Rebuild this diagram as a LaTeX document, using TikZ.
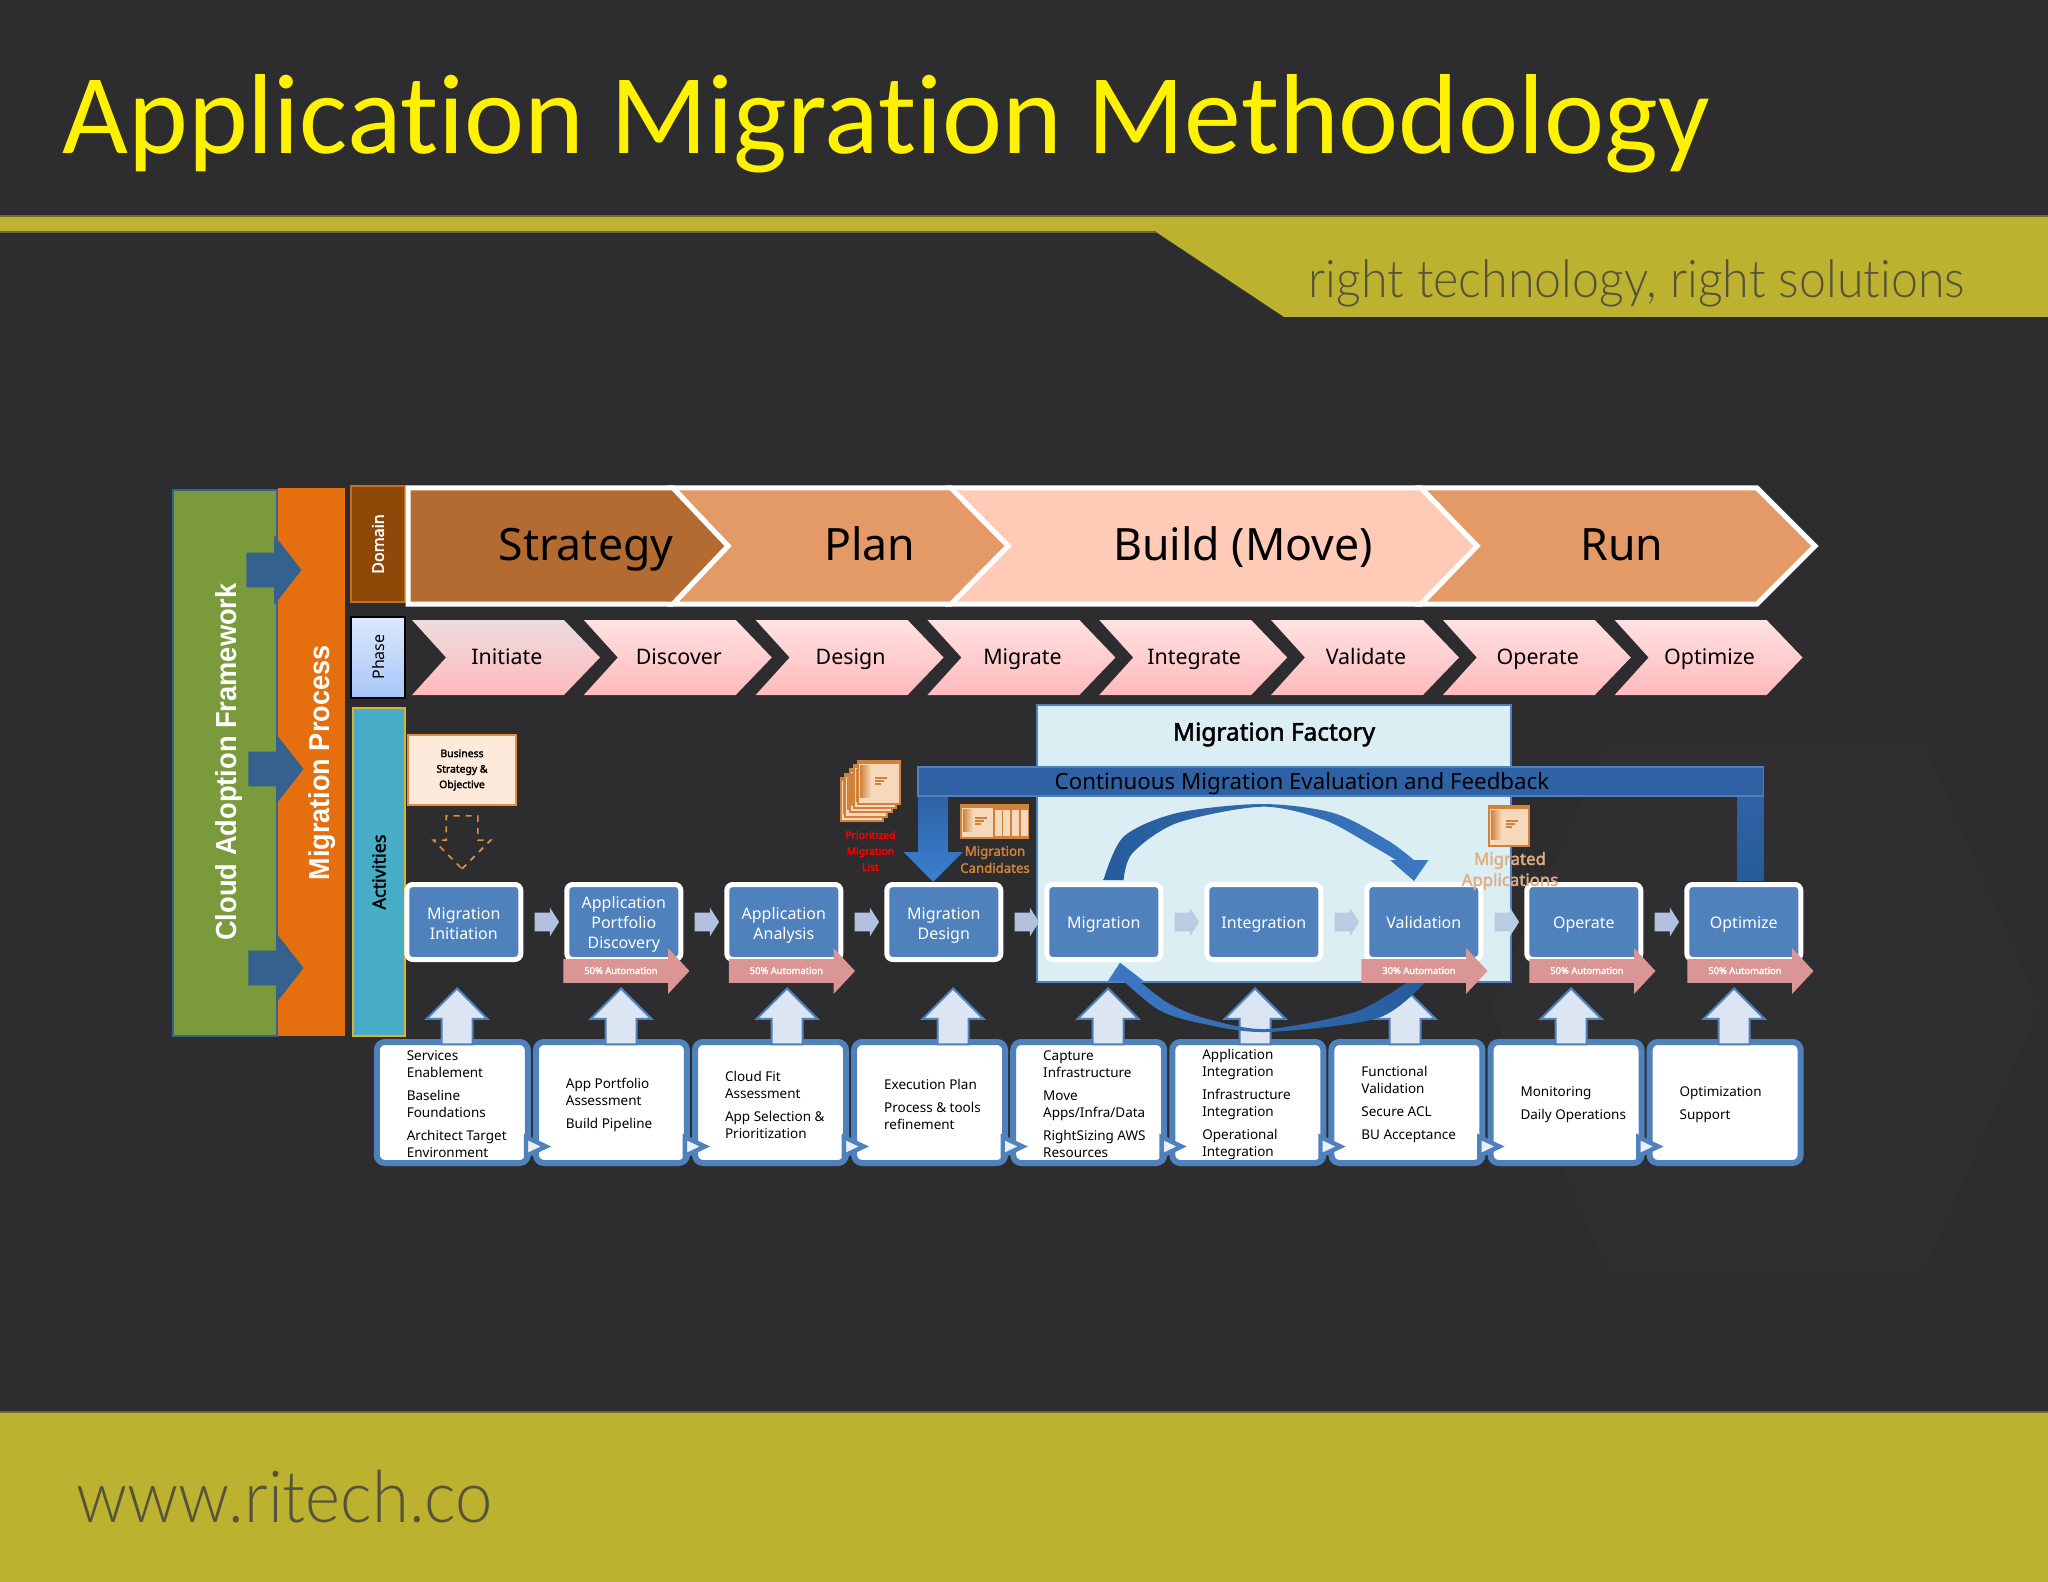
\documentclass[tikz,border=0pt]{standalone}
\usepackage{fontspec}
\setmainfont[AutoFakeBold=2]{Noto Sans}
\newfontfamily\titlefont[Ligatures=CommonOff]{Carlito}
\newfontfamily\panelfont[FakeStretch=.94]{Liberation Sans}
\newfontfamily\thinfont[FakeStretch=.93,Ligatures=CommonOff]{Lato Light}
\usetikzlibrary{positioning,calc,shapes.arrows}

\definecolor{slate}{HTML}{2D2D2F}
\definecolor{slatelift}{HTML}{2F2F31}
\definecolor{olive}{HTML}{BDB22F}
\definecolor{olivedark}{HTML}{6F6A35}
\definecolor{olivetext}{HTML}{55543A}
\definecolor{boxblue}{HTML}{4F81BD}
\definecolor{pale}{HTML}{DCE6F2}
\definecolor{pink}{HTML}{DA9694}
\definecolor{peach}{HTML}{E39A66}
\definecolor{navy}{HTML}{35618F}
\definecolor{iconedge}{HTML}{D0813A}
\definecolor{iconbody}{HTML}{F6D9BC}
\definecolor{cafgreen}{HTML}{7A9A3B}
\definecolor{procorange}{HTML}{E56E0E}
\definecolor{domfill}{HTML}{8E4908}
\definecolor{domedge}{HTML}{C86E1E}
\definecolor{phasetop}{HTML}{DCE8FC}
\definecolor{phasebot}{HTML}{A8C6FA}
\definecolor{actfill}{HTML}{47ACC6}
\definecolor{actedge}{HTML}{D9B230}
\definecolor{stratfill}{HTML}{B46B32}
\definecolor{buildfill}{HTML}{FFCBB6}
\definecolor{chevfirst}{HTML}{ECDCDE}
\definecolor{chevtop}{HTML}{FFE2E2}
\definecolor{chevbot}{HTML}{FFB9BC}
\definecolor{factfill}{HTML}{DAEEF3}
\definecolor{stepdark}{HTML}{B3C1DE}
\definecolor{steplight}{HTML}{B8CCE4}
\definecolor{loopdark}{HTML}{265C9B}
\definecolor{looplight}{HTML}{3C78C3}
\definecolor{barblue}{HTML}{2F62A5}
\definecolor{headblue}{HTML}{3A80D2}
\definecolor{noteedge}{HTML}{E08F3F}
\definecolor{notefill}{HTML}{FDEADA}
\definecolor{candtext}{HTML}{D0823C}
\definecolor{apptext}{HTML}{E0AD85}

\newcommand{\slideicon}[4]{%
  \fill[iconedge] (#1,#2) rectangle ++(#3,#4);
  \fill[iconbody] (#1+2,#2+4) rectangle ++(#3-4,#4-6);
  \shade[left color=iconedge, right color=iconbody] (#1+3,#2+5) rectangle ++(.25*#3,#4-13);
}
\newcommand{\topgap}[1]{\rule{0pt}{#1}}

\begin{document}
\begin{tikzpicture}[x=.5pt, y=-.5pt,
  chev/.style = {draw=white, line width=2.5pt, line join=miter},
  dom/.style = {font=\fontsize{22.3}{24}\selectfont, text=black, execute at begin node=\strut},
  phase/.style = {font=\fontsize{10.7}{12}\selectfont, text=black, execute at begin node=\strut},
  side/.style = {rotate=90, font=\bfseries\fontsize{8}{10}\selectfont},
  pbox/.style = {draw=white, line width=2.5pt, fill=boxblue, rounded corners=3pt, text=white,
    minimum width=57pt, minimum height=37.5pt, inner sep=0pt, align=center,
    font=\fontsize{8}{10}\selectfont, execute at end node=\strut},
  bbox/.style = {draw=boxblue, line width=3pt, fill=white, rounded corners=4pt,
    minimum width=75.5pt, minimum height=60.5pt, inner sep=0pt},
  btext/.style = {align=left, inner sep=0pt, outer sep=0pt, text=black,
    font=\fontsize{6.75}{8.5}\selectfont},
  upar/.style = {single arrow, draw=boxblue, line width=1pt, fill=pale, shape border rotate=90,
    minimum height=28pt, minimum width=29.5pt, single arrow head extend=7.5pt,
    single arrow tip angle=90, inner xsep=7.25pt, inner ysep=0pt},
  smallar/.style = {single arrow, fill=#1, minimum height=12.25pt, minimum width=14pt,
    single arrow head extend=2.5pt, single arrow tip angle=115, inner xsep=0pt, inner ysep=4.5pt},
  autoar/.style = {single arrow, fill=pink, minimum height=63pt, minimum width=22.5pt,
    single arrow head extend=5.5pt, single arrow tip angle=94, inner xsep=0pt, inner ysep=3.25pt,
    text height=4pt, text depth=1pt, text=white, font=\bfseries\fontsize{4.7}{6}\selectfont},
  sidear/.style = {single arrow, fill=navy, minimum height=27.5pt, minimum width=34.5pt,
    single arrow head extend=8.75pt, single arrow tip angle=104, inner xsep=0pt, inner ysep=8.5pt},
  tick/.style = {iconedge, line width=.6pt},
  ]
  \useasboundingbox (0,0) rectangle (2048,1582);
  \fill[slate] (0,0) rectangle (2048,1582);
  % faint watermark behind the slide
  \fill[slatelift] (1607,743) -- (1924,743) -- (2040,1007) -- (1924,1271) -- (1607,1271) -- (1490,1007) -- cycle;

  % header and footer
  \fill[olive] (0,217) -- (2048,217) -- (2048,317) -- (1284,317) -- (1156,232) -- (0,232) -- cycle;
  \draw[olivedark, line width=1pt] (0,216) -- (2048,216);
  \draw[olivedark, line width=.6pt] (0,232) -- (1156,232);
  \node[anchor=base west, inner sep=0pt, text=yellow, font=\titlefont\fontsize{56.9}{60}\selectfont]
    (title) at (62,154) {Application Migration Methodology};
  \node[anchor=base west, inner sep=0pt, text=olivetext, font=\thinfont\fontsize{26}{30}\selectfont]
    (motto) at (1308,298) {right technology, right solutions};
  \fill[olive] (0,1412) rectangle (2048,1582);
  \draw[olivedark, line width=.8pt] (0,1412) -- (2048,1412);
  \node[anchor=base west, inner sep=0pt, text=olivetext, font=\thinfont\fontsize{36}{40}\selectfont]
    (site) at (76,1522.5) {www.ritech.co};

  % left panels
  \filldraw[fill=cafgreen, draw=navy, line width=1pt] (173,490) rectangle (277,1036);
  \fill[procorange] (278,488) rectangle (345,1036);
  \node[rotate=90, text=white, font=\panelfont\bfseries\fontsize{14.5}{16}\selectfont] (caf) at (229,762) {Cloud Adoption Framework};
  \node[rotate=90, text=white, font=\panelfont\bfseries\fontsize{14.4}{16}\selectfont] (mproc) at (322,763) {Migration Process};
  \node[sidear, anchor=tip] (a1) at (302,570) {};
  \node[sidear, anchor=tip] (a2) at (304,769) {};
  \node[sidear, anchor=tip] (a3) at (304,968) {};

  % row titles
  \node[side, draw=domedge, line width=.6pt, fill=domfill, text=white,
    minimum width=58pt, minimum height=27pt, inner sep=0pt] (domain) at (378,544) {Domain};
  \node[side, font=\fontsize{8}{10}\selectfont, draw=black, line width=1pt, top color=phasetop, bottom color=phasebot, text=black,
    minimum width=40.5pt, minimum height=27pt, inner sep=0pt] (phase) at (378,657) {Phase};
  \node[side, font=\bfseries\fontsize{9}{10}\selectfont, draw=actedge, line width=.8pt, fill=actfill, text=black,
    minimum width=164pt, minimum height=26pt, inner sep=0pt] (act) at (379,872) {Activities};

  % domain chevrons
  \filldraw[chev, fill=peach] (1421,488) -- (1757,488) -- (1815,546) -- (1757,604) -- (1421,604) -- (1477,546) -- cycle;
  \filldraw[chev, fill=buildfill] (951,488) -- (1421,488) -- (1477,546) -- (1421,604) -- (951,604) -- (1008,546) -- cycle;
  \filldraw[chev, fill=peach] (673,488) -- (951,488) -- (1008,546) -- (951,604) -- (673,604) -- (728,546) -- cycle;
  \filldraw[chev, fill=stratfill] (408,488) -- (673,488) -- (728,546) -- (673,604) -- (408,604) -- cycle;
  \node[dom] (strategy) at (586,551) {Strategy};
  \node[dom] (plan) at (870,551) {Plan};
  \node[dom] (build) at (1243,551) {Build (Move)};
  \node[dom] (run) at (1622,551) {Run};

  % phase chevrons
  \foreach \i/\col/\lab in {0/chevfirst/Initiate, 1/chevtop/Discover, 2/chevtop/Design, 3/chevtop/Migrate,
      4/chevtop/Integrate, 5/chevtop/Validate, 6/chevtop/Operate, 7/chevtop/Optimize} {
    \pgfmathsetmacro\xo{412+171.8*\i}
    \fill[top color=\col, bottom color=chevbot]
      (\xo,620) -- ++(152,0) -- ++(36,37.5) -- ++(-36,37.5) -- ++(-152,0) -- ++(34,-37.5) -- cycle;
    \node[phase] (ph\i) at (\xo+95,660) {\lab};
  }

  % factory
  \filldraw[fill=factfill, draw=boxblue, line width=1pt] (1036.5,705) rectangle (1510.5,982);
  \node[font=\bfseries\fontsize{12.2}{14}\selectfont, text=black] (factory) at (1274,734.5) {Migration Factory};

  % bottom boxes
  \foreach \i/\lab in {1/{Services\\Enablement\\[3pt]Baseline\\Foundations\\[3pt]Architect Target\\Environment},
      2/{App Portfolio\\Assessment\\[3pt]Build Pipeline},
      3/{Cloud Fit\\Assessment\\[3pt]App Selection \&\\Prioritization},
      4/{Execution Plan\\[3pt]Process \& tools\\refinement},
      5/{Capture\\Infrastructure\\[3pt]Move\\Apps/Infra/Data\\[3pt]RightSizing AWS\\Resources},
      6/{Application\\Integration\\[3pt]Infrastructure\\Integration\\[3pt]Operational\\Integration},
      7/{Functional\\Validation\\[3pt]Secure ACL\\[3pt]BU Acceptance},
      8/{Monitoring\\[3pt]Daily Operations},
      9/{Optimization\\[3pt]Support}} {
    \pgfmathsetmacro\xb{452.3+159.1*(\i-1)}
    \node[bbox] (b\i) at (\xb,1102.5) {};
    \node[btext, right=16.5pt of b\i.west, yshift=-1pt] (t\i) {\lab};
  }
  \foreach \i in {0,...,7} {
    \pgfmathsetmacro\xt{526+158.9*\i}
    \filldraw[draw=boxblue, fill=pale!60!white, line width=2.2pt, line join=miter] (\xt,1137) -- (\xt+20,1146.5) -- (\xt,1156) -- cycle;
  }

  % arrows up
  \foreach \i/\xu in {1/457,2/621,3/787,4/953,5/1108,6/1255,7/1405,8/1571,9/1734} {
    \node[upar, anchor=tip] (u\i) at (\xu,987) {};
  }

  % lower loop
  \shade[left color=looplight, right color=loopdark]
    plot[smooth] coordinates {(1426,981) (1378,1018) (1266,1032) (1199.5,1023) (1159,1010) (1123.6,981)}
    -- (1108,981) -- (1120,962.7) -- (1143.6,981) -- (1139,981)
    -- plot[smooth] coordinates {(1139,981) (1168,1003) (1204,1018) (1266,1029) (1355.7,1011.7) (1409,981)} -- cycle;

  % process boxes
  \foreach \i/\lab in {1/{\topgap{10pt}Migration\\Initiation}, 2/{\topgap{9.6pt}Application\\Portfolio\\Discovery},
      3/{\topgap{10pt}Application\\Analysis}, 4/{\topgap{10pt}Migration\\Design}, 5/{\topgap{9pt}Migration},
      6/{\topgap{9pt}Integration}, 7/{\topgap{9pt}Validation}, 8/{\topgap{9pt}Operate}, 9/{\topgap{9pt}Optimize}} {
    \pgfmathsetmacro\xp{463.8+160*(\i-1)}
    \node[pbox] (p\i) at (\xp,922) {\lab};
  }
  \foreach \a/\b/\col in {1/2/stepdark, 2/3/stepdark, 3/4/stepdark, 4/5/stepdark,
      5/6/steplight, 6/7/steplight, 7/8/steplight, 8/9/stepdark} {
    \node[smallar=\col] (s\a) at ($(p\a)!.5!(p\b)$) {};
  }

  % automation
  \node[autoar, anchor=tip] (auto2) at (690,971) {50\% Automation};
  \node[autoar, anchor=tip] (auto3) at (855.5,971) {50\% Automation};
  \node[autoar, anchor=tip] (auto7) at (1488,971) {30\% Automation};
  \node[autoar, anchor=tip] (auto8) at (1656,971) {50\% Automation};
  \node[autoar, anchor=tip] (auto9) at (1814,971) {50\% Automation};

  % upper loop
  \shade[left color=loopdark, right color=looplight]
    plot[smooth] coordinates {(1103.5,880) (1123.6,836.7) (1177,813) (1262,804) (1333.4,813) (1387,840) (1413.8,860)}
    -- (1428.5,860) -- (1414,881) -- (1390,860) -- (1396,860)
    -- plot[smooth] coordinates {(1396,860) (1373.6,846.7) (1324.5,820) (1262,806.7) (1177,823) (1132.5,853) (1123.6,880)} -- cycle;

  % feedback bar
  \fill[top color=barblue, bottom color=headblue]
    (918,796) -- (918,852) -- (903.5,852) -- (933,882) -- (963,852) -- (948,852) -- (948,796) -- cycle;
  \fill[top color=barblue, bottom color=loopdark] (1737,796) rectangle (1763.6,880);
  \filldraw[fill=barblue, draw=boxblue, line width=.6pt] (918,767) rectangle (1763.6,796);
  \node[font=\fontsize{11.15}{13}\selectfont, text=black] (feedback) at (1302,784) {Continuous Migration Evaluation and Feedback};

  % strategy note
  \node[draw=noteedge, line width=1pt, fill=notefill, text=black, minimum width=54pt, minimum height=35pt,
    inner sep=0pt, align=center, font=\bfseries\fontsize{5.2}{7.75}\selectfont]
    (goal) at (462,770) {Business\\Strategy \&\\Objective};
  \node[single arrow, draw=noteedge, dashed, line width=.8pt, shape border rotate=270, inner xsep=7.5pt, inner ysep=0pt,
    minimum height=26.5pt, minimum width=28pt, single arrow head extend=6.5pt, single arrow tip angle=90, anchor=tip]
    (goalar) at (462,870) {};

  % document icons
  \foreach \k in {4,3,2,1,0} {
    \slideicon{857-4.2*\k}{760+4.2*\k}{44}{45}
  }
  \slideicon{960}{804}{40}{35}
  \foreach \xs in {994.7,1003,1012,1020.7} {
    \fill[iconedge] (\xs-1.5,804) rectangle (\xs+8.5,839);
    \fill[iconbody] (\xs,810) rectangle (\xs+7,836);
  }
  \slideicon{1488}{805}{42}{42}
  \foreach \xt/\yt in {875/778, 975/818, 1506/821} {
    \draw[tick] (\xt,\yt) -- ++(12,0);
    \draw[tick] (\xt,\yt+3) -- ++(9,0);
    \draw[tick] (\xt,\yt+6) -- ++(6,0);
  }
  \node[align=center, text=red, font=\bfseries\fontsize{5.2}{8}\selectfont] (prio) at (870.4,851) {Prioritized\\Migration\\List};
  \node[align=center, text=candtext, font=\bfseries\fontsize{6.6}{8.5}\selectfont] (cand) at (995,859.5) {Migration\\Candidates};
  \node[align=center, text=apptext, font=\bfseries\fontsize{8.4}{10.5}\selectfont] (migapp) at (1510,871) {Migrated\\Applications};
\end{tikzpicture}
\end{document}
